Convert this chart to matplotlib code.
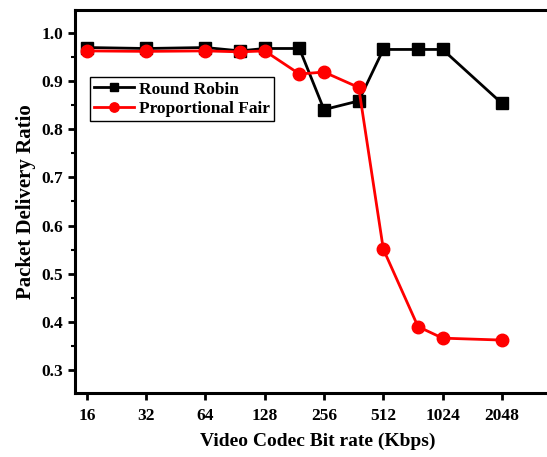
import numpy as np
import matplotlib as mpl
from matplotlib import pyplot as plt
from matplotlib.ticker import FixedLocator, MultipleLocator, NullLocator

plt.rcParams['font.family'] = ['Liberation Serif', 'DejaVu Serif']
plt.rcParams['font.weight'] = 'bold'

bitrate = [16, 32, 64, 96, 128, 192, 256, 384, 512, 768, 1024, 2048]
round_robin = [0.970, 0.968, 0.970, 0.963, 0.968, 0.968, 0.841, 0.859, 0.966, 0.966, 0.966, 0.854]
prop_fair = [0.963, 0.962, 0.963, 0.961, 0.963, 0.915, 0.919, 0.887, 0.551, 0.390, 0.366, 0.362]
xticks = [16, 32, 64, 128, 256, 512, 1024, 2048]

fig = plt.figure(figsize=(5.47, 4.57), dpi=100)
# axes run past the right edge of the figure, like the original crop
ax = fig.add_axes([75/547, 64/457, 485/547, 383/457])

ax.plot(bitrate, round_robin, 'k-s', lw=2, ms=8, label='Round Robin')
ax.plot(bitrate, prop_fair, '-o', color='red', lw=2, ms=9, label='Proportional Fair')

ax.set_xscale('log', base=2)
ax.set_xlim(2**3.8, 2**11.98)
ax.set_ylim(0.252, 1.048)
ax.xaxis.set_major_locator(FixedLocator(xticks))
ax.xaxis.set_minor_locator(NullLocator())
ax.set_xticklabels([str(v) for v in xticks])
ax.yaxis.set_major_locator(MultipleLocator(0.1))
ax.yaxis.set_minor_locator(MultipleLocator(0.05))
ax.yaxis.set_major_formatter(mpl.ticker.FormatStrFormatter('%.1f'))

for s in ['left', 'bottom', 'top', 'right']:
    ax.spines[s].set_linewidth(2.2)
ax.tick_params(axis='both', which='major', direction='out', width=2, length=5,
               labelsize=12.5)
ax.tick_params(axis='y', which='minor', direction='out', width=1.5, length=3)
ax.tick_params(axis='x', pad=6)

ax.set_xlabel('Video Codec Bit rate (Kbps)', fontsize=14, fontweight='bold', labelpad=6)
ax.set_ylabel('Packet Delivery Ratio', fontsize=15, fontweight='bold', labelpad=4)

leg = ax.legend(loc='upper left', bbox_to_anchor=(0.03, 0.825), fancybox=False,
                edgecolor='black', framealpha=1, fontsize=12.5, borderpad=0.25,
                handlelength=2.3, handletextpad=0.3, labelspacing=0.2,
                borderaxespad=0, markerscale=0.75)
leg.get_frame().set_linewidth(1)

fig.savefig('out.png', dpi=100)
